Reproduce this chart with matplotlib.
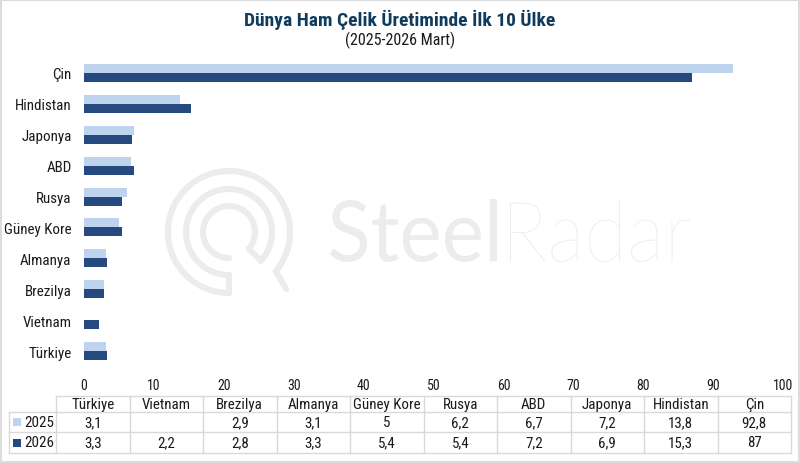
import numpy as np
import matplotlib
matplotlib.use("Agg")
import matplotlib.pyplot as plt
from matplotlib import font_manager as fm
from matplotlib.textpath import TextPath
from matplotlib.patches import PathPatch, Rectangle
from matplotlib.transforms import Affine2D

# ---- data ----
categories = ["Türkiye", "Vietnam", "Brezilya", "Almanya", "Güney Kore",
              "Rusya", "ABD", "Japonya", "Hindistan", "Çin"]
series_names = ["2025", "2026"]
values_2025 = [3.1, np.nan, 2.9, 3.1, 5, 6.2, 6.7, 7.2, 13.8, 92.8]
values_2026 = [3.3, 2.2, 2.8, 3.3, 5.4, 5.4, 7.2, 6.9, 15.3, 87]
labels_2025 = ["3,1", "", "2,9", "3,1", "5", "6,2", "6,7", "7,2", "13,8", "92,8"]
labels_2026 = ["3,3", "2,2", "2,8", "3,3", "5,4", "5,4", "7,2", "6,9", "15,3", "87"]
x_ticks = [0, 10, 20, 30, 40, 50, 60, 70, 80, 90, 100]
title = "Dünya Ham Çelik Üretiminde İlk 10 Ülke"
subtitle = "(2025-2026 Mart)"

C25 = "#bdd3ee"
C26 = "#264a7f"
TXT = "#1a1a1a"
GRID = "#d9d9d9"


def has_font(name):
    try:
        fm.findfont(fm.FontProperties(family=name), fallback_to_default=False)
        return True
    except Exception:
        return False


FONT = "DejaVu Sans"
for cand in ["Liberation Sans Narrow", "Roboto Condensed", "Open Sans Condensed", "Roboto", "Liberation Sans"]:
    if has_font(cand):
        FONT = cand
        break
plt.rcParams["font.family"] = [FONT, "DejaVu Sans"]

W, H = 800, 464
fig = plt.figure(figsize=(W / 100, H / 100), dpi=100)
fig.patch.set_facecolor("white")

# background overlay in pixel coordinates (y down)
bg = fig.add_axes([0, 0, 1, 1], zorder=0)
bg.set_xlim(0, W)
bg.set_ylim(H, 0)
bg.axis("off")

# border
bg.add_patch(Rectangle((1, 1), W - 2, H - 2, fill=False, edgecolor="#dcdcdc", lw=1.5))

# ---- watermark logo ----
WM = "#ececec"
cx, cy = 229, 233
r1, r2, r3 = 26, 43, 61


def pt(r, ang):
    a = np.deg2rad(ang)
    return cx + r * np.cos(a), cy - r * np.sin(a)


def arc(r, a0, a1, n=200):
    a = np.deg2rad(np.linspace(a0, a1, n))
    return cx + r * np.cos(a), cy - r * np.sin(a)


lw_logo = 4.4
xs, ys = arc(r1, 270, -40)
bg.plot(xs, ys, color=WM, lw=lw_logo, solid_capstyle="round")
p0 = pt(r1, -40); p1 = pt(r2, -42)
bg.plot([p0[0], p1[0]], [p0[1], p1[1]], color=WM, lw=lw_logo, solid_capstyle="round")
xs, ys = arc(r2, -42, 270)
bg.plot(xs, ys, color=WM, lw=lw_logo, solid_capstyle="round")
p0 = pt(r2, 270); p1 = pt(r3, 270)
bg.plot([p0[0], p1[0]], [p0[1], p1[1]], color=WM, lw=lw_logo, solid_capstyle="round")
xs, ys = arc(r3, 270, -40)
bg.plot(xs, ys, color=WM, lw=lw_logo, solid_capstyle="round")
p0 = pt(r3, -40); p1 = pt(r3 + 20, -45)
bg.plot([p0[0], p1[0]], [p0[1], p1[1]], color=WM, lw=lw_logo, solid_capstyle="round")


def fit_text(s, weight, box):
    fam = "Lato" if has_font("Lato") else "DejaVu Sans"
    tp = TextPath((0, 0), s, size=100, prop=fm.FontProperties(family=fam, weight=weight))
    ext = tp.get_extents()
    x0, y0, x1, y1 = box
    sx = (x1 - x0) / ext.width
    sy = (y1 - y0) / ext.height
    tr = Affine2D().translate(-ext.x0, -ext.y0).scale(sx, -sy).translate(x0, y1)
    path = tr.transform_path(tp)
    bg.add_patch(PathPatch(path, facecolor=WM, edgecolor="none"))


fit_text("Steel", "normal", (330, 200, 497, 263))
fit_text("Radar", "light", (510, 202, 690, 263))

# ---- title ----
fig.text(0.5, 1 - 20 / H, title, ha="center", va="center", fontsize=14,
         fontweight="bold", color="#0f3b5c")
fig.text(0.5, 1 - 40 / H, subtitle, ha="center", va="center", fontsize=11.5, color=TXT)

# ---- main bar axes ----
left, right = 84 / W, 783 / W
top_px, bot_px = 58.5, 367.5
ax = fig.add_axes([left, 1 - bot_px / H, right - left, (bot_px - top_px) / H], zorder=1)
ax.patch.set_alpha(0)
y = np.arange(len(categories))
h = 0.29
ax.barh(y + h / 2, values_2025, height=h, color=C25, label=series_names[0])
ax.barh(y - h / 2, values_2026, height=h, color=C26, label=series_names[1])
ax.set_xlim(0, 100)
ax.set_ylim(-0.5, len(categories) - 0.5)
ax.set_yticks(y)
ax.set_yticklabels(categories, fontsize=10.8, color=TXT)
ax.set_xticks(x_ticks)
ax.set_xticklabels([str(t) for t in x_ticks], fontsize=10, color=TXT)
ax.tick_params(axis="y", length=0, pad=9)
ax.tick_params(axis="x", length=0, pad=8.5)
for s in ax.spines.values():
    s.set_visible(False)

# ---- data table ----
col0 = 56
colw = (791 - 56) / len(categories)
rows_y = [397, 413, 433, 454]
bg.plot([col0, 791], [rows_y[0], rows_y[0]], color=GRID, lw=1)
for yy in rows_y[1:]:
    bg.plot([9, 791], [yy, yy], color=GRID, lw=1)
bg.plot([9, 9], [rows_y[1], rows_y[3]], color=GRID, lw=1)
for k in range(len(categories) + 1):
    xx = col0 + k * colw
    bg.plot([xx, xx], [rows_y[0], rows_y[3]], color=GRID, lw=1)

FS_T = 10.8
for i, cat in enumerate(categories):
    xc = col0 + (i + 0.5) * colw
    bg.text(xc, (rows_y[0] + rows_y[1]) / 2, cat, ha="center", va="center", fontsize=FS_T, color=TXT)
    bg.text(xc, (rows_y[1] + rows_y[2]) / 2, labels_2025[i], ha="center", va="center", fontsize=FS_T, color=TXT)
    bg.text(xc, (rows_y[2] + rows_y[3]) / 2, labels_2026[i], ha="center", va="center", fontsize=FS_T, color=TXT)

for j, (name, col) in enumerate(zip(series_names, [C25, C26])):
    yc = (rows_y[1 + j] + rows_y[2 + j]) / 2
    bg.add_patch(Rectangle((13, yc - 4), 8, 8, facecolor=col, edgecolor="none"))
    bg.text(24, yc, name, ha="left", va="center", fontsize=FS_T, color=TXT)

fig.savefig("out.png", dpi=100, facecolor="white")
